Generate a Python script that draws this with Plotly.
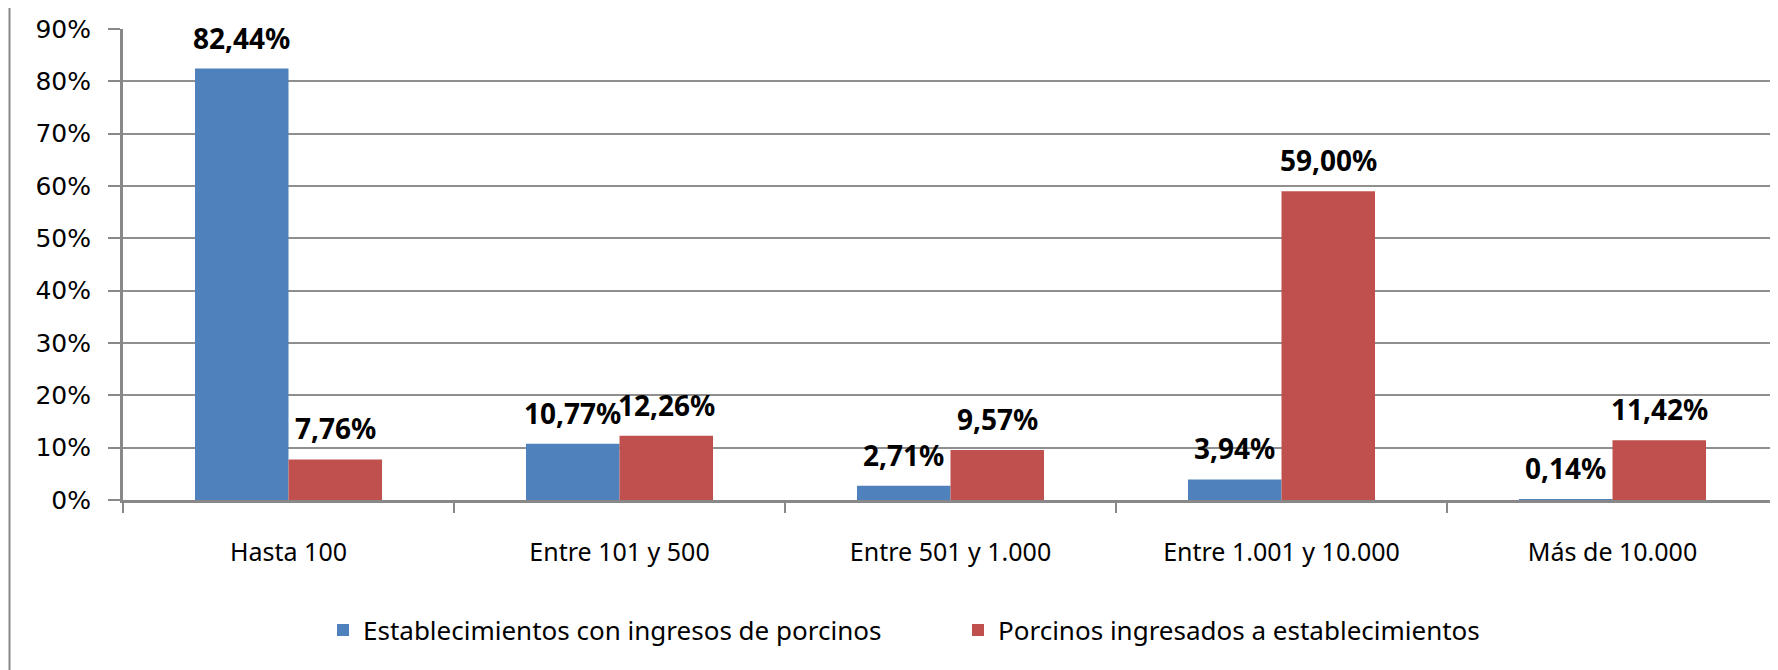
import plotly.graph_objects as go

categories = ["Hasta 100", "Entre 101 y 500", "Entre 501 y 1.000", "Entre 1.001 y 10.000", "Más de 10.000"]
series_names = ["Establecimientos con ingresos de porcinos", "Porcinos ingresados a establecimientos"]
establecimientos = [82.44, 10.77, 2.71, 3.94, 0.14]
porcinos = [7.76, 12.26, 9.57, 59.00, 11.42]
colors = ["#4F81BD", "#C0504D"]

def fmt(v):
    return f"{v:.2f}".replace(".", ",") + "%"

BARGAP = 0.435
half = (1 - BARGAP) / 4  # center offset of each bar in a 2-bar group

fig = go.Figure()
series = [establecimientos, porcinos]
for name, vals, col in zip(series_names, series, colors):
    fig.add_trace(go.Bar(
        x=categories, y=vals, name=name,
        marker=dict(color=col, line=dict(width=0)),
    ))

offsets = [-half, half]
for vals, off in zip(series, offsets):
    for i, v in enumerate(vals):
        fig.add_annotation(
            x=i + off, y=v, xref="x", yref="y",
            text=fmt(v), showarrow=False,
            yanchor="bottom", yshift=10,
            font=dict(family="Noto Sans", size=28, color="black", weight="bold"),
        )

W, H = 1778, 670
ml, mr, mt, mb = 115, 8, 21, 178
pw = W - ml - mr
ph = H - mt - mb
fig.update_layout(
    width=W, height=H,
    margin=dict(l=ml, r=mr, t=mt, b=mb, autoexpand=False),
    paper_bgcolor="white", plot_bgcolor="white",
    barmode="group", bargap=BARGAP, bargroupgap=0,
    font=dict(family="Noto Sans", size=25, color="black"),
    showlegend=True,
    legend=dict(orientation="h", x=200 / pw, xanchor="left",
                y=-130 / ph, yanchor="middle",
                font=dict(family="Noto Sans", size=26),
                entrywidth=590, itemwidth=30),
)
fig.update_xaxes(
    showline=True, linecolor="#888888", linewidth=3,
    ticks="outside", tickson="boundaries", ticklen=10, tickcolor="#888888", tickwidth=2,
    ticklabelstandoff=28,
    tickfont=dict(size=25),
    showgrid=False,
)
fig.update_yaxes(
    range=[0, 90], dtick=10, ticksuffix="%",
    showline=True, linecolor="#888888", linewidth=3,
    ticks="outside", ticklen=12, tickcolor="#888888", tickwidth=2,
    showgrid=True, gridcolor="#8f8f8f", gridwidth=2,
    tickfont=dict(family="DejaVu Sans", size=25),
    ticklabelstandoff=12,
    zeroline=False,
)
fig.add_shape(type="line", xref="paper", yref="paper",
              x0=(1.5 - ml) / pw, x1=(1.5 - ml) / pw,
              y0=-mb / ph, y1=1 + mt / ph,
              line=dict(color="#888888", width=2))
fig.write_html("out.html")
